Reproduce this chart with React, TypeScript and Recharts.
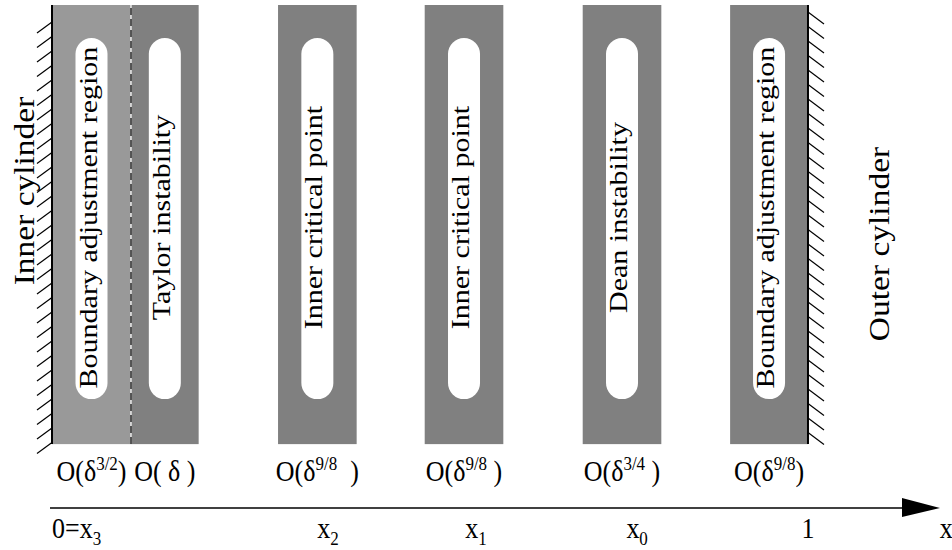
import React from "react";
import { ComposedChart, XAxis, YAxis, ReferenceArea, ReferenceLine } from "recharts";

// regions across the gap, x measured from inner (0) to outer (1) cylinder
const REGION_NAMES = [
  "Boundary adjustment region",
  "Taylor instability",
  "Inner critical point",
  "Inner critical point",
  "Dean instability",
  "Boundary adjustment region",
];
const REGION_START = [0, 0.1045, 0.299, 0.493, 0.702, 0.897];
const REGION_END = [0.1045, 0.194, 0.403, 0.597, 0.806, 1.0];

// order-of-magnitude widths written under each region
const ORDER_BASE = ["O(δ", "O( δ )", "O(δ", "O(δ", "O(δ", "O(δ"];
const ORDER_EXP = ["3/2", "", "9/8", "9/8", "3/4", "9/8"];
const ORDER_CLOSE = [")", "", "  )", " )", " )", ")"];

const WALL_NAMES = ["Inner cylinder", "Outer cylinder"];
const WALL_AT = [0, 1];

const TICK_VALUES = [0, 0.365, 0.561, 0.774, 1, 1.183];
const TICK_MAIN = ["0=x", "x", "x", "x", "1", "x"];
const TICK_SUB = ["3", "2", "1", "0", "", ""];

const X_MAX = 1.1905;
const ARROW_END = 1.1746;
const PANEL_FLOOR = 0.127;
const FONT = "'Liberation Serif', 'Times New Roman', serif";
const SY = 1.155; // the figure is drawn taller than wide

const chartData = REGION_NAMES.map((name, i) => ({
  name,
  x: (REGION_START[i] + REGION_END[i]) / 2,
}));

function regionShape(i: number) {
  return (p: any) => {
    const { x, y, width, height } = p;
    const cx = x + width / 2;
    const capTop = y + 33;
    const capBottom = y + height - 45;
    const cy = (capTop + capBottom) / 2 - 1;
    return (
      <g>
        <rect x={x} y={y} width={width} height={height} fill={i === 0 ? "#999999" : "#808080"} />
        <rect
          x={cx - 16}
          y={capTop}
          width={32}
          height={capBottom - capTop}
          rx={16}
          ry={16}
          fill="#ffffff"
        />
        <text
          transform={`translate(${cx + 5} ${cy}) rotate(-90) scale(${SY} 1)`}
          textAnchor="middle"
          fontSize={26}
          fontFamily={FONT}
          fill="#000"
        >
          {REGION_NAMES[i]}
        </text>
        <text
          transform={`translate(${cx} ${y + height + 37}) scale(1 ${SY})`}
          textAnchor="middle"
          fontSize={26}
          fontFamily={FONT}
          fill="#000"
          style={{ whiteSpace: "pre" }}
        >
          <tspan>{ORDER_BASE[i]}</tspan>
          {ORDER_EXP[i] ? (
            <tspan dy={-10} fontSize={17}>
              {ORDER_EXP[i]}
            </tspan>
          ) : null}
          {ORDER_CLOSE[i] ? (
            <tspan dy={ORDER_EXP[i] ? 10 : 0}>{ORDER_CLOSE[i]}</tspan>
          ) : null}
        </text>
      </g>
    );
  };
}

function wallShape(i: number) {
  return (p: any) => {
    const { x1, y1, y2 } = p;
    const top = Math.min(y1, y2);
    const bottom = Math.max(y1, y2);
    const hatches = [];
    const start = i === 0 ? top + 17 : top + 7;
    for (let hy = start; hy <= bottom - 1; hy += 14.5) {
      hatches.push(
        i === 0 ? (
          <line key={hy} x1={x1} y1={hy} x2={x1 - 15} y2={hy + 11} stroke="#000" strokeWidth={1.2} />
        ) : (
          <line key={hy} x1={x1} y1={hy} x2={x1 + 16} y2={hy + 12} stroke="#000" strokeWidth={1.2} />
        )
      );
    }
    const lx = i === 0 ? 34 : x1 + 81;
    const ly = i === 0 ? 191 : 244;
    return (
      <g>
        {hatches}
        <line x1={x1} y1={top} x2={x1} y2={bottom} stroke="#000" strokeWidth={2} />
        <text
          transform={`translate(${lx} ${ly}) rotate(-90) scale(${SY} 1)`}
          textAnchor="middle"
          fontSize={29}
          fontFamily={FONT}
          fill="#000"
        >
          {WALL_NAMES[i]}
        </text>
      </g>
    );
  };
}

const dividerShape = (p: any) => (
  <g>
    <line x1={p.x1} y1={p.y1} x2={p.x2} y2={p.y2} stroke="#ffffff" strokeWidth={1.2} />
    <line x1={p.x1} y1={p.y1} x2={p.x2} y2={p.y2} stroke="#000" strokeWidth={1.2} strokeDasharray="7 4" />
  </g>
);

const arrowShape = (p: any) => {
  const { x1, y1, x2 } = p;
  return (
    <g>
      <line x1={x1 - 2} y1={y1} x2={x2 - 36} y2={y1} stroke="#404040" strokeWidth={2} />
      <polygon points={`${x2 - 38},${y1 - 10} ${x2},${y1} ${x2 - 38},${y1 + 9}`} fill="#000" />
    </g>
  );
};

const renderTick = (p: any) => {
  const { x, y, payload } = p;
  const i = TICK_VALUES.indexOf(payload.value);
  if (i < 0) return <g />;
  return (
    <text
      transform={`translate(${x} ${y + 30}) scale(1 ${SY})`}
      textAnchor={i === 0 ? "start" : "middle"}
      fontSize={26}
      fontFamily={FONT}
      fill="#000"
    >
      <tspan>{TICK_MAIN[i]}</tspan>
      {TICK_SUB[i] ? (
        <tspan dy={6} fontSize={17}>
          {TICK_SUB[i]}
        </tspan>
      ) : null}
    </text>
  );
};

export default function App() {
  return (
    <div style={{ position: "absolute", left: 0, top: 0, width: 952, height: 550, background: "#fff" }}>
      <ComposedChart
        width={952}
        height={550}
        data={chartData}
        margin={{ top: 5, right: 0, left: 52, bottom: 0 }}
      >
        <XAxis
          dataKey="x"
          type="number"
          domain={[0, X_MAX]}
          ticks={TICK_VALUES}
          interval={0}
          tick={renderTick}
          axisLine={false}
          tickLine={false}
          tickSize={0}
          tickMargin={0}
          height={42}
          allowDataOverflow
        />
        <YAxis type="number" domain={[0, 1]} hide allowDataOverflow />
        {REGION_NAMES.map((name, i) => (
          <ReferenceArea
            key={`region-${i}`}
            x1={REGION_START[i]}
            x2={REGION_END[i]}
            y1={PANEL_FLOOR}
            y2={1}
            shape={regionShape(i)}
          />
        ))}
        <ReferenceLine
          segment={[
            { x: REGION_END[0], y: PANEL_FLOOR },
            { x: REGION_END[0], y: 1 },
          ]}
          shape={dividerShape}
        />
        {WALL_AT.map((w, i) => (
          <ReferenceLine
            key={`wall-${i}`}
            segment={[
              { x: w, y: PANEL_FLOOR },
              { x: w, y: 1 },
            ]}
            shape={wallShape(i)}
          />
        ))}
        <ReferenceLine
          segment={[
            { x: 0, y: 0 },
            { x: ARROW_END, y: 0 },
          ]}
          shape={arrowShape}
        />
      </ComposedChart>
    </div>
  );
}
